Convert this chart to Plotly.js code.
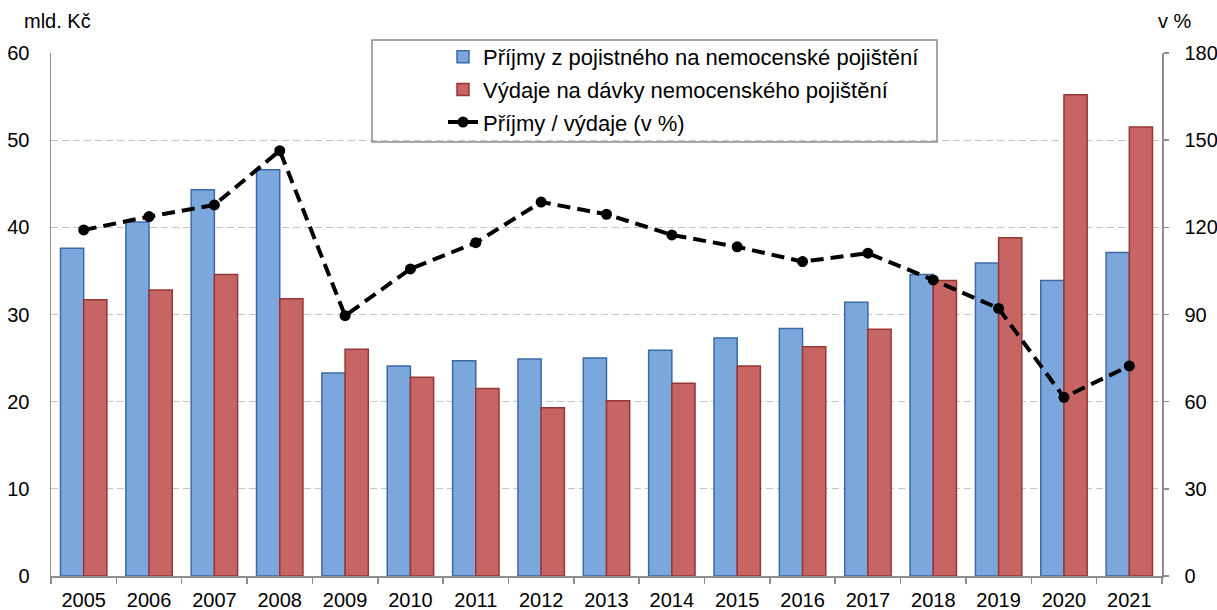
<!DOCTYPE html>
<html>
<head>
<meta charset="utf-8">
<script src="https://cdn.plot.ly/plotly-3.0.1.min.js"></script>
<style>html,body{margin:0;padding:0;background:#fff;}#chart{width:1217px;height:610px;}</style>
</head>
<body>
<div id="chart"></div>
<script>
const years = ["2005","2006","2007","2008","2009","2010","2011","2012","2013","2014","2015","2016","2017","2018","2019","2020","2021"];
const prijmy = [37.6,40.6,44.3,46.6,23.3,24.1,24.7,24.9,25.0,25.9,27.3,28.4,31.4,34.6,35.9,33.9,37.1];
const vydaje = [31.7,32.8,34.6,31.8,26.0,22.8,21.5,19.3,20.1,22.1,24.1,26.3,28.3,33.9,38.8,55.2,51.5];
const pomer = [119.1,123.7,127.7,146.4,89.6,105.7,114.7,128.7,124.5,117.4,113.3,108.2,111.1,101.9,92.1,61.5,72.3];

const nameP = "Příjmy z pojistného na nemocenské pojištění";
const nameV = "Výdaje na dávky nemocenského pojištění";
const nameR = "Příjmy / výdaje (v %)";

const FONT = "Liberation Sans, Arial, sans-serif";
const FS = 20;
const axisGray = "#8f8f8f";
const gridGray = "#c4c4c4";

const data = [
  {type:"bar", x:years, y:prijmy, name:nameP, legendgroup:"a",
   marker:{color:"#7ba7dd", line:{color:"#3c6aa4", width:1.5}}},
  {type:"bar", x:years, y:vydaje, name:nameV, legendgroup:"b",
   marker:{color:"#c66563", line:{color:"#973735", width:1.5}}},
  {type:"scatter", mode:"lines+markers", x:years, y:pomer, yaxis:"y2", name:nameR, legendgroup:"c",
   line:{color:"#000", width:4, dash:"13px,7px"}, marker:{color:"#000", size:11}}
];

const layout = {
  width:1217, height:610,
  margin:{l:51, r:55, t:53, b:34},
  paper_bgcolor:"#fff", plot_bgcolor:"#fff",
  font:{family:FONT, size:FS, color:"#000"},
  barmode:"group", bargap:0.29, bargroupgap:0,
  showlegend:true,
  legend:{x:(443-51)/1111, xanchor:"left", y:(576-36)/523, yanchor:"top", bgcolor:"rgba(0,0,0,0)",
          borderwidth:0, traceorder:"grouped", tracegroupgap:1, itemwidth:30,
          font:{family:FONT, size:22, color:"#000"}},
  xaxis:{type:"category", range:[-0.5,16.5], autorange:false, showline:true, linecolor:axisGray, linewidth:1.5,
         ticks:"outside", tickson:"boundaries", ticklen:6, tickcolor:axisGray, tickwidth:1.5,
         showgrid:false, ticklabelstandoff:5, tickfont:{size:FS}},
  yaxis:{range:[0,60], dtick:10, showline:true, linecolor:axisGray, linewidth:1.5,
         ticks:"", showgrid:true, gridcolor:gridGray, gridwidth:1.3, griddash:"7px,4px",
         zeroline:false, ticklabelstandoff:16, tickfont:{size:FS}},
  yaxis2:{range:[0,180], dtick:30, overlaying:"y", side:"right", showline:true,
          linecolor:axisGray, linewidth:1.5, ticks:"outside", ticklen:5, tickcolor:axisGray,
          tickwidth:1.5, showgrid:false, zeroline:false, ticklabelstandoff:12, tickfont:{size:FS}},
  shapes:[
    {type:"rect", xref:"paper", yref:"paper",
     x0:(372-51)/1111, x1:(937-51)/1111, y0:(576-142)/523, y1:(576-40)/523,
     line:{color:"#8a8a8a", width:1.5}, fillcolor:"rgba(0,0,0,0)", layer:"above"}
  ],
  annotations:[
    {text:"mld. Kč", xref:"paper", yref:"paper", x:(22-51)/1111, xanchor:"left",
     y:(576-21)/523, yanchor:"middle", showarrow:false, font:{size:FS}},
    {text:"v %", xref:"paper", yref:"paper", x:(1175-51)/1111, xanchor:"center",
     y:(576-21)/523, yanchor:"middle", showarrow:false, font:{size:FS}}
  ]
};

Plotly.newPlot("chart", data, layout, {displayModeBar:false, staticPlot:true});
</script>
</body>
</html>
